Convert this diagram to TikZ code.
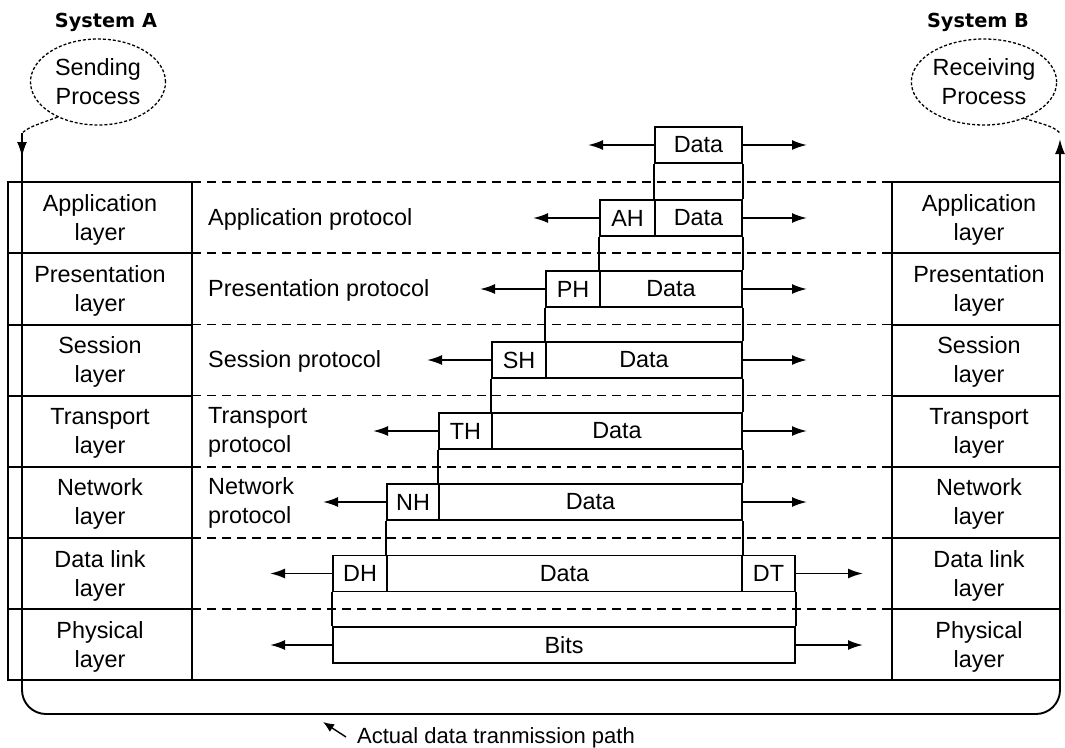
\documentclass[tikz,border=0pt]{standalone}
\usepackage{fontspec}
\setmainfont{Liberation Sans}
\newfontfamily\titlefont{DejaVu Sans}
\usetikzlibrary{arrows.meta,shapes.geometric}

\begin{document}
\begin{tikzpicture}[x=1pt,y=-1pt,
  txt/.style={font=\fontsize{23.4}{29}\selectfont, align=center, inner sep=0},
  protolbl/.style={font=\fontsize{23.4}{29}\selectfont, align=left, inner sep=0, anchor=west},
  pkt/.style={draw, line width=1.9, minimum height=36, inner sep=0,
    font=\fontsize{23.4}{29}\selectfont},
  frame/.style={line width=2.0},
  sep/.style={line width=1.8, dash pattern=on 9 off 6},
  wire/.style={line width=1.9},
  head/.style={-{Latex[length=15,width=10]}},
  msg/.style={line width=1.9, head},
  proc/.style={ellipse, draw, line width=1.3, dash pattern=on 3 off 2,
    minimum width=135, minimum height=86, inner sep=0, align=center,
    font=\fontsize{23.4}{29}\selectfont},
  link/.style={line width=1.3, dash pattern=on 3 off 2},
  title/.style={font=\titlefont\bfseries\fontsize{19.3}{23}\selectfont, inner sep=0}
]
\useasboundingbox (0,0) rectangle (1065,747);

% ---- system titles and end processes
\node[title] (sa) at (106,22) {System A};
\node[title] (sb) at (978,22) {System B};
\node[proc] (sp) at (98,82) {Sending\\Process};
\node[proc] (rp) at (984,82) {Receiving\\Process};

% ---- layer columns
\draw[frame] (8,182) rectangle (192,680);
\draw[frame] (892,182) rectangle (1060,680);
\foreach \y in {253,324.5,395.5,467,538,609}{
  \draw[frame] (8,\y) -- (192,\y);
  \draw[frame] (892,\y) -- (1060,\y);
}
\foreach \y in {182,253,324.5,395.5,467,538,609}
  \draw[sep] (192,\y) -- (892,\y);
\draw[frame] (192,680) -- (892,680);

\node[txt] (la1) at (100,220) {Application\\layer};
\node[txt] (la2) at (100,291) {Presentation\\layer};
\node[txt] (la3) at (100,362) {Session\\layer};
\node[txt] (la4) at (100,433) {Transport\\layer};
\node[txt] (la5) at (100,504) {Network\\layer};
\node[txt] (la6) at (100,575.5) {Data link\\layer};
\node[txt] (la7) at (100,647) {Physical\\layer};

\node[txt] (lb1) at (979,220) {Application\\layer};
\node[txt] (lb2) at (979,291) {Presentation\\layer};
\node[txt] (lb3) at (979,362) {Session\\layer};
\node[txt] (lb4) at (979,433) {Transport\\layer};
\node[txt] (lb5) at (979,504) {Network\\layer};
\node[txt] (lb6) at (979,575.5) {Data link\\layer};
\node[txt] (lb7) at (979,647) {Physical\\layer};

% ---- peer protocol names
\node[protolbl] (p1) at (208,219) {Application protocol};
\node[protolbl] (p2) at (208,290) {Presentation protocol};
\node[protolbl] (p3) at (208,361) {Session protocol};
\node[protolbl] (p4) at (208,432) {Transport\\protocol};
\node[protolbl] (p5) at (208,503) {Network\\protocol};

% ---- the packet at each level
\node[pkt, minimum width=87]  (top)  at (698.5,145) {Data};
\node[pkt, minimum width=55]  (ah)   at (627.5,218) {AH};
\node[pkt, minimum width=87]  (ahd)  at (698.5,218) {Data};
\node[pkt, minimum width=54]  (ph)   at (573,289)   {PH};
\node[pkt, minimum width=142] (phd)  at (671,289)   {Data};
\node[pkt, minimum width=54]  (sh)   at (519,360)   {SH};
\node[pkt, minimum width=196] (shd)  at (644,360)   {Data};
\node[pkt, minimum width=53]  (th)   at (465.5,431) {TH};
\node[pkt, minimum width=250] (thd)  at (617,431)   {Data};
\node[pkt, minimum width=52]  (nh)   at (413,502)   {NH};
\node[pkt, minimum width=303] (nhd)  at (590.5,502) {Data};
\node[pkt, minimum width=54]  (dh)   at (360,573.5) {DH};
\node[pkt, minimum width=355] (dhd)  at (564.5,573.5) {Data};
\node[pkt, minimum width=53]  (dt)   at (768.5,573.5) {DT};
\node[pkt, minimum width=462] (bits) at (564,645)   {Bits};

% ---- each packet handed down to the next layer
\draw[wire] (top.south west) -- (ahd.north west);
\draw[wire] (top.south east) -- (ahd.north east);
\draw[wire] (ah.south west)  -- (phd.north west);
\draw[wire] (ahd.south east) -- (phd.north east);
\draw[wire] (ph.south west)  -- (shd.north west);
\draw[wire] (phd.south east) -- (shd.north east);
\draw[wire] (sh.south west)  -- (thd.north west);
\draw[wire] (shd.south east) -- (thd.north east);
\draw[wire] (th.south west)  -- (nhd.north west);
\draw[wire] (thd.south east) -- (nhd.north east);
\draw[wire] (nh.south west)  -- (dhd.north west);
\draw[wire] (nhd.south east) -- (dhd.north east);
\draw[wire] (dh.south west)  -- (bits.north west);
\draw[wire] (dt.south east)  -- (bits.north east);

% ---- arrows out of each packet
\coordinate (topL) at (588,145);   \coordinate (topR) at (807,145);
\coordinate (ahL)  at (533,218);   \coordinate (ahR)  at (807,218);
\coordinate (phL)  at (480,289);   \coordinate (phR)  at (807,289);
\coordinate (shL)  at (427,360);   \coordinate (shR)  at (807,360);
\coordinate (thL)  at (373,431);   \coordinate (thR)  at (807,431);
\coordinate (nhL)  at (323,502);   \coordinate (nhR)  at (807,502);
\coordinate (dhL)  at (270,573.5); \coordinate (dhR)  at (863,573.5);
\coordinate (bL)   at (270,645);   \coordinate (bR)   at (863,645);

\draw[msg] (top.west) -- (topL);  \draw[msg] (top.east) -- (topR);
\draw[msg] (ah.west)  -- (ahL);   \draw[msg] (ahd.east) -- (ahR);
\draw[msg] (ph.west)  -- (phL);   \draw[msg] (phd.east) -- (phR);
\draw[msg] (sh.west)  -- (shL);   \draw[msg] (shd.east) -- (shR);
\draw[msg] (th.west)  -- (thL);   \draw[msg] (thd.east) -- (thR);
\draw[msg] (nh.west)  -- (nhL);   \draw[msg] (nhd.east) -- (nhR);
\draw[msg] (dh.west)  -- (dhL);   \draw[msg] (dt.east)  -- (dhR);
\draw[msg] (bits.west) -- (bL);   \draw[msg] (bits.east) -- (bR);

% ---- actual transmission path: down A, across the medium, up B
\coordinate (a0) at (22,133);
\coordinate (a1) at (22,157);
\coordinate (lr) at (1060,714);
\coordinate (b0) at (1060,133);
\coordinate (b1) at (1060,139);
\draw[link] (sp.221) .. controls (30,127) .. (a0);
\draw[wire, head] (a0) -- (a1);
\draw[wire, rounded corners=24, head] (a0) |- (lr) -- (b1);
\draw[link] (rp.-42) .. controls (1053,127) .. (b0);

% ---- caption
\node[font=\fontsize{22}{26}\selectfont, inner sep=0, anchor=base west] (cap) at (357,743)
  {Actual data tranmission path};
\coordinate (capTail) at (346,737);
\coordinate (capTip)  at (323,722);
\draw[line width=1.4, -{Latex[length=11,width=9]}] (capTail) -- (capTip);
\end{tikzpicture}
\end{document}
